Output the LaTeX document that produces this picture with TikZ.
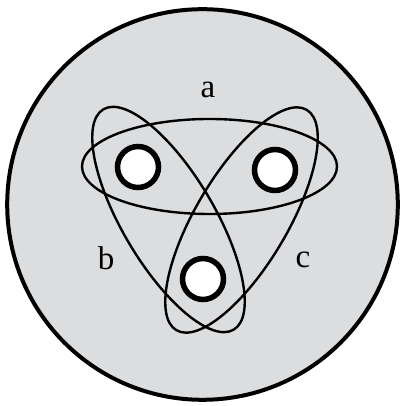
\documentclass[tikz,border=0pt]{standalone}
\usepackage{fontspec}
\setmainfont{Liberation Serif}
\usepackage{tikz}
\definecolor{diskgray}{RGB}{220,221,223}

\tikzset{
  hole/.style={circle, draw, line width=5.5pt, fill=white, inner sep=0pt, minimum size=41pt},
  loop/.style={line width=2.4pt},
  lbl/.style={font=\fontsize{33}{35}\selectfont, inner sep=0pt}
}

\begin{document}
\begin{tikzpicture}[x=1pt,y=1pt]
  \useasboundingbox (0,0) rectangle (401,406);
  % the surface
  \draw[line width=4pt, fill=diskgray] (202.5,201.5) circle (195.3);
  % the three curves
  \draw[loop] (209.5,239.5) ellipse [x radius=127.5, y radius=47.5];
  \draw[loop, rotate around={-59.4:(168.5,186.5)}] (168.5,186.5) ellipse [x radius=128, y radius=46];
  \draw[loop, rotate around={59.4:(241.5,186)}] (241.5,186) ellipse [x radius=128, y radius=46];
  % punctures
  \node[hole] (P1) at (138,239) {};
  \node[hole] (P2) at (275,236) {};
  \node[hole] (P3) at (203,127) {};
  \node[lbl] (A) at (208,316) {a};
  \node[lbl] (B) at (106,148) {b};
  \node[lbl] (C) at (303,146) {c};
\end{tikzpicture}
\end{document}
